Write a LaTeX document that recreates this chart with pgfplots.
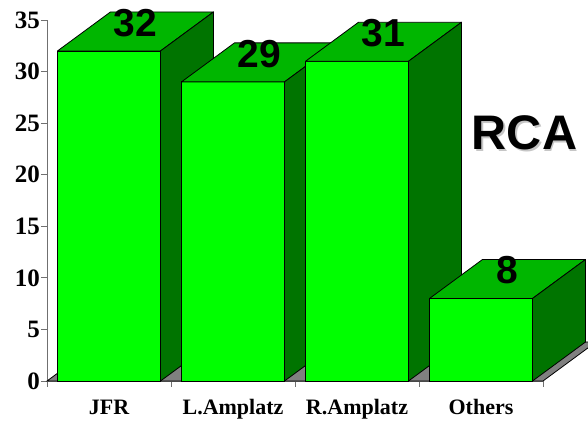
\documentclass[border=0pt]{standalone}
\usepackage{fontspec}
\setmainfont{Liberation Serif}
\setsansfont{Liberation Sans}
\usepackage{pgfplots}
\pgfplotsset{compat=1.18}
\usepackage{pgfplotstable}

\definecolor{frontgreen}{HTML}{00FF00}
\definecolor{topgreen}{HTML}{00B600}
\definecolor{sidegreen}{HTML}{007400}
\definecolor{floorgray}{HTML}{808080}
\definecolor{axisgray}{HTML}{707070}

% number of catheters by type
\pgfplotstableread{
x  y
0  32
1  29
2  31
3  8
}\catheterdata

\newcommand\pxperunit{10.3143}% 361pt per 35 units

\begin{document}
\begin{tikzpicture}
\useasboundingbox (0,0) rectangle (588pt,422pt);
\clip (0,0) rectangle (588pt,422pt);
\begin{axis}[
  at={(47pt,41pt)}, anchor=south west,
  scale only axis, width=496pt, height=361pt,
  xmin=-0.5, xmax=3.5, ymin=0, ymax=35,
  clip=false,
  axis x line*=bottom, axis y line*=left,
  axis line style={draw=axisgray, line width=0.9pt},
  tick style={draw=axisgray, line width=0.9pt},
  tick align=outside,
  major tick length=6pt,
  ytick={0,5,...,35},
  xtick={-0.5,0.5,1.5,2.5,3.5},
  x tick label as interval,
  xticklabels={JFR,L.Amplatz,R.Amplatz,Others},
  /pgf/number format/assume math mode=true,
  yticklabel style={font=\fontsize{25}{25}\selectfont\bfseries, inner sep=1pt},
  xticklabel style={font=\fontsize{22}{22}\selectfont\bfseries, anchor=north,
    inner sep=0pt, text height=15pt, text depth=4pt, yshift=-12pt},
]
  % floor under the bars
  \draw[fill=floorgray, line width=0.8pt]
    (axis cs:-0.5,0) -- (axis cs:3.5,0) -- ++(53pt,39pt) -- ++(-496pt,0pt) -- cycle;

  % 3D bars: front, top and side face, drawn bar by bar
  \addplot[
    only marks, mark=*, mark size=0pt, mark options={draw=none, fill=none},
    scatter,
    visualization depends on={rawy \as \barv},
    scatter/@pre marker code/.code={%
      \pgfmathsetmacro\barh{\barv*\pxperunit}%
      \filldraw[fill=frontgreen, draw=black, line width=0.8pt]
        (-51.5pt,-\barh pt) rectangle (51.5pt,0pt);
      \filldraw[fill=topgreen, draw=black, line width=0.8pt, line join=round]
        (-51.5pt,0pt) -- (51.5pt,0pt) -- (104.5pt,39pt) -- (1.5pt,39pt) -- cycle;
      \filldraw[fill=sidegreen, draw=black, line width=0.8pt, line join=round]
        (51.5pt,0pt) -- (51.5pt,-\barh pt) -- (104.5pt,{39pt-\barh pt}) -- (104.5pt,39pt) -- cycle;
    },
    scatter/@post marker code/.code={},
  ] table[x=x, y=y] {\catheterdata};

  % value labels on the top faces
  \addplot[
    draw=none, mark=none,
    nodes near coords,
    every node near coord/.append style={anchor=base, xshift=26.5pt, yshift=14.5pt,
      font=\sffamily\bfseries\fontsize{39}{39}\selectfont, text=black},
  ] table[x=x, y=y] {\catheterdata};
\end{axis}

\node[anchor=base, font=\sffamily\bfseries\fontsize{48.5}{48.5}\selectfont, text=gray!45]
  at (526pt,270.5pt) {RCA};
\node[anchor=base, font=\sffamily\bfseries\fontsize{48.5}{48.5}\selectfont, text=black]
  at (524.5pt,272pt) {RCA};
\end{tikzpicture}
\end{document}
